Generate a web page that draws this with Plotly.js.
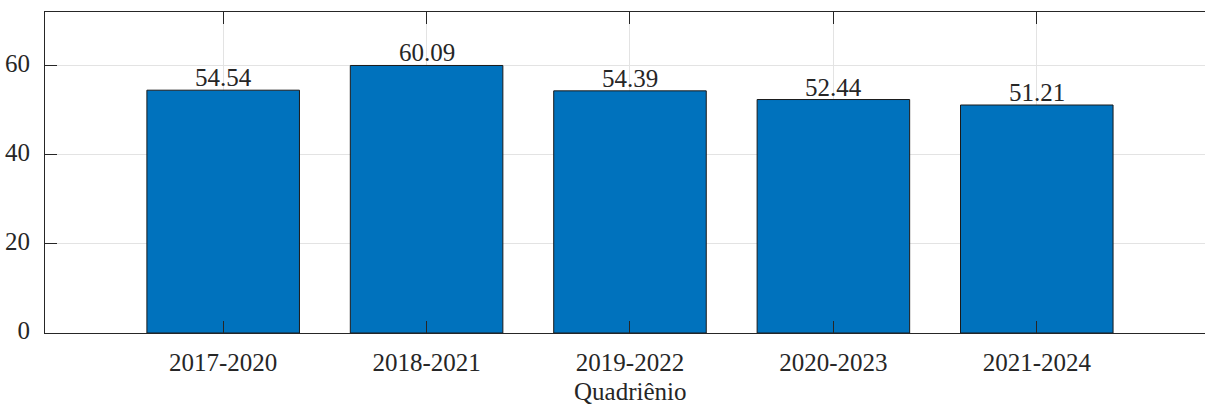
<!DOCTYPE html>
<html>
<head>
<meta charset="utf-8">
<script src="https://cdn.plot.ly/plotly-3.0.1.min.js"></script>
<style>
html, body { margin: 0; padding: 0; overflow: hidden; background: #fff; }
#chart { width: 1205px; height: 406px; }
</style>
</head>
<body>
<div id="chart"></div>
<script>
const categories = ["2017-2020", "2018-2021", "2019-2022", "2020-2023", "2021-2024"];
const values = [54.54, 60.09, 54.39, 52.44, 51.21];
const valueLabels = ["54.54", "60.09", "54.39", "52.44", "51.21"];
const yTicks = [0, 20, 40, 60];
const xTitle = "Quadriênio";

const axisColor = "#262626";
const gridColor = "#e3e3e3";
const font = { family: "'Liberation Serif', 'Times New Roman', Times, serif", size: 25, color: axisColor };

const trace = {
  type: "bar",
  x: categories,
  y: values,
  marker: { color: "#0072BD", line: { color: "#1a1a1a", width: 1 } },
  hoverinfo: "skip"
};

const annotations = categories.map((c, i) => ({
  x: c, y: values[i], xref: "x", yref: "y",
  text: valueLabels[i], showarrow: false,
  yanchor: "bottom", yshift: -3,
  font: font
}));
// x-axis title, centred on the full (uncropped) axis box
annotations.push({
  xref: "paper", yref: "paper", x: 0.5043, y: -0.181,
  xanchor: "center", yanchor: "middle",
  text: xTitle, showarrow: false, font: font
});

const layout = {
  width: 1205, height: 406,
  margin: { l: 45, r: 0, t: 12, b: 73 },
  paper_bgcolor: "#fff", plot_bgcolor: "#fff",
  font: font,
  showlegend: false,
  bargap: 0.25,
  xaxis: {
    type: "category",
    range: [-0.876, 4.827],
    showline: true, mirror: "ticks", linecolor: axisColor, linewidth: 1,
    ticks: "inside", ticklen: 12, tickcolor: axisColor, tickwidth: 1,
    showgrid: true, gridcolor: gridColor, gridwidth: 1,
    tickfont: font,
    ticklabelstandoff: 7,
    fixedrange: true
  },
  yaxis: {
    range: [0, 72.1],
    tickvals: yTicks,
    showline: true, mirror: false, linecolor: axisColor, linewidth: 1,
    ticks: "inside", ticklen: 12, tickcolor: axisColor, tickwidth: 1,
    showgrid: true, gridcolor: gridColor, gridwidth: 1,
    zeroline: false,
    tickfont: font,
    ticklabelstandoff: 9,
    ticklabelshift: -3,
    fixedrange: true
  },
  annotations: annotations
};

Plotly.newPlot("chart", [trace], layout, { displayModeBar: false, staticPlot: true });
</script>
</body>
</html>
